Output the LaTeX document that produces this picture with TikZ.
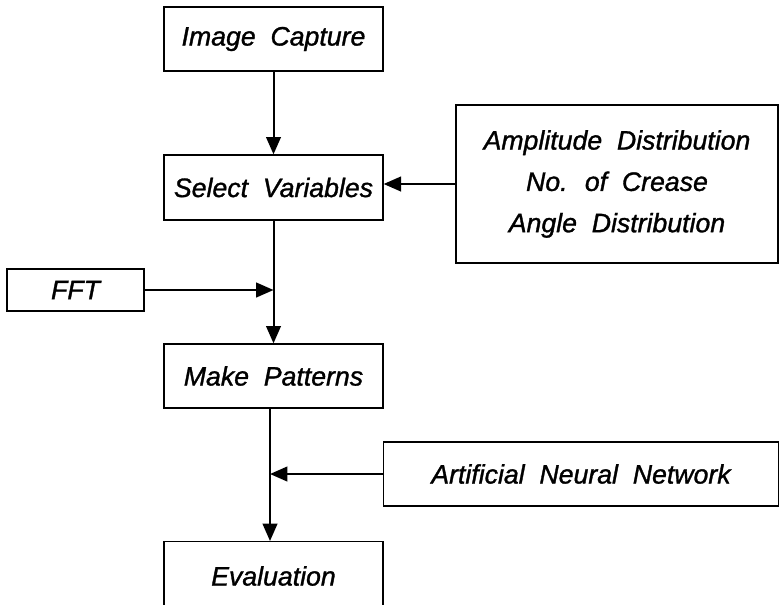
\documentclass[tikz,border=0pt]{standalone}
\usepackage{fontspec}
\setmainfont[WordSpace=2.0,FakeBold=1.2]{Liberation Sans}
\usetikzlibrary{arrows.meta}
\begin{document}
\begin{tikzpicture}[x=0.75pt,y=-0.75pt,
  box/.style={draw,line width=1pt,rectangle,inner sep=0pt,align=center,
    font={\fontsize{20}{31}\selectfont\itshape}},
  flow/.style={line width=1.5pt,-{Triangle[length=13pt,width=11pt]}}]
\useasboundingbox (0,0) rectangle (780,604);
\clip (0,0) rectangle (780,604);
% process boxes
\node[box,minimum width=219*0.75pt,minimum height=64*0.75pt] (cap) at (273.5,39) {Image Capture};
\node[box,minimum width=219*0.75pt,minimum height=65*0.75pt] (sel) at (273.5,187.5) {Select Variables};
\node[box,minimum width=219*0.75pt,minimum height=64*0.75pt] (mk) at (273.5,376) {Make Patterns};
\node[box,minimum width=219*0.75pt,minimum height=70*0.75pt,anchor=north] (ev) at (273.5,541) {};
\node at (273.5,576) [font={\fontsize{20}{24}\selectfont\itshape}] (evt) {Evaluation};
% input boxes
\node[box,minimum width=322*0.75pt,minimum height=158*0.75pt] (amp) at (617,184)
  {Amplitude Distribution\\No. of Crease\\Angle Distribution};
\node[box,minimum width=137*0.75pt,minimum height=42*0.75pt] (fft) at (75.5,290) {FFT};
\node[box,minimum width=395*0.75pt,minimum height=64*0.75pt] (ann) at (581,474) {Artificial Neural Network};
% junctions on the main line
\coordinate (j1) at (273.5,290);
\coordinate (j2) at (270,474);
\coordinate (m2) at (270,408);
\coordinate (e2) at (270,541);
% connectors
\draw[flow] (cap.south) -- (sel.north);
\draw[flow] (amp.west) -- (amp.west -| sel.east);
\draw[flow] (sel.south) -- (mk.north);
\draw[flow] (fft.east) -- (j1);
\draw[flow] (m2) -- (e2);
\draw[flow] (ann.west) -- (j2);
\end{tikzpicture}
\end{document}
